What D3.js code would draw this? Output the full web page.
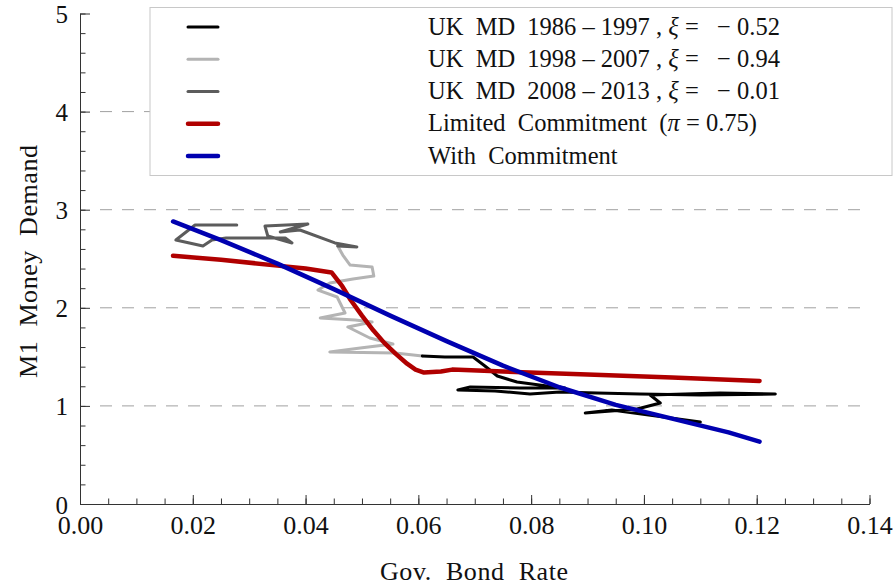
<!DOCTYPE html>
<html><head><meta charset="utf-8">
<script src="https://cdn.jsdelivr.net/npm/d3@7"></script>
<style>
html,body{margin:0;padding:0;background:#fff;}
svg{display:block;font-family:"Liberation Serif","Times New Roman",serif;}
</style></head>
<body><svg id="c" width="895" height="586"></svg>
<script>
// ---- data ----
const black8697 = [[0.1100,0.836],[0.0943,0.958],[0.0896,0.928],[0.0988,0.968],[0.1029,1.030],[0.1011,1.111],[0.1135,1.131],[0.1233,1.121],[0.1100,1.111],[0.0993,1.121],[0.0917,1.131],[0.0851,1.142],[0.0798,1.121],[0.0736,1.152],[0.0670,1.162],[0.0692,1.193],[0.0780,1.182],[0.0860,1.182],[0.0828,1.203],[0.0775,1.244],[0.0763,1.264],[0.0740,1.305],[0.0718,1.407],[0.0697,1.498],[0.0647,1.498],[0.0607,1.509]];
const gray9807 = [[0.0607,1.509],[0.0559,1.539],[0.0443,1.549],[0.0497,1.590],[0.0555,1.631],[0.0514,1.692],[0.0475,1.804],[0.0518,1.855],[0.0488,1.876],[0.0426,1.896],[0.0470,1.947],[0.0456,2.110],[0.0422,2.181],[0.0443,2.253],[0.0484,2.294],[0.0521,2.324],[0.0518,2.416],[0.0479,2.436],[0.0466,2.538],[0.0457,2.630]];
const dark0813 = [[0.0457,2.630],[0.0491,2.620],[0.0452,2.661],[0.0390,2.793],[0.0355,2.773],[0.0404,2.854],[0.0328,2.834],[0.0333,2.732],[0.0376,2.661],[0.0364,2.712],[0.0259,2.712],[0.0234,2.691],[0.0218,2.630],[0.0170,2.691],[0.0204,2.844],[0.0278,2.844]];
const limitedX = [0.0165,0.025,0.035,0.040,0.0446,0.0465,0.048,0.050,0.052,0.054,0.056,0.058,0.0595,0.061,0.064,0.066,0.075,0.090,0.105,0.1205];
const limitedY = [2.53,2.49,2.43,2.40,2.36,2.22,2.08,1.92,1.77,1.64,1.53,1.43,1.37,1.34,1.35,1.37,1.35,1.32,1.29,1.255];
const commitX = [0.0165,0.025,0.035,0.045,0.055,0.065,0.075,0.085,0.095,0.105,0.115,0.1205];
const commitY = [2.88,2.69,2.45,2.19,1.92,1.66,1.41,1.19,1.01,0.87,0.73,0.635];
const xMajor = [0,0.02,0.04,0.06,0.08,0.10,0.12,0.14];
const xMinor = d3.range(0,29).map(i=>i*0.005);
const yMajor = [0,1,2,3,4,5];
const yMinor = d3.range(0,26).map(i=>i*0.2);
const gridY = [1,2,3,4];
const legendLabels = [
  ["UK  MD  1986 – 1997 , ","ξ"," =   − 0.52"],
  ["UK  MD  1998 – 2007 , ","ξ"," =   − 0.94"],
  ["UK  MD  2008 – 2013 , ","ξ"," =   − 0.01"],
  ["Limited  Commitment  (","π"," = 0.75)"],
  ["With  Commitment","",""]
];
const colors = ["#000000","#b4b4b4","#5c5c5c","#b00000","#0000b0"];
const widths = [3,3,3,4.5,4.5];

// ---- drawing ----
const svg = d3.select("#c");
const x = d3.scaleLinear().domain([0,0.14]).range([80,869.5]);
const y = d3.scaleLinear().domain([0,5]).range([504,13.5]);

// grid
svg.append("g").selectAll("line").data(gridY).join("line")
  .attr("x1",100).attr("x2",869).attr("y1",d=>y(d)).attr("y2",d=>y(d))
  .attr("stroke","#a0a0a0").attr("stroke-width",1).attr("stroke-dasharray","12,10");

// axes
const ax1 = svg.append("g").attr("transform",`translate(0,${y(0)})`)
  .call(d3.axisBottom(x).tickValues(xMinor).tickSize(-5.5).tickSizeOuter(0).tickFormat(""));
const ax2 = svg.append("g").attr("transform",`translate(0,${y(0)})`)
  .call(d3.axisBottom(x).tickValues(xMajor).tickSize(-9).tickSizeOuter(0).tickPadding(12).tickFormat(d3.format(".2f")));
const ay1 = svg.append("g").attr("transform",`translate(${x(0)},0)`)
  .call(d3.axisLeft(y).tickValues(yMinor).tickSize(-5.5).tickSizeOuter(0).tickFormat(""));
const ay2 = svg.append("g").attr("transform",`translate(${x(0)},0)`)
  .call(d3.axisLeft(y).tickValues(yMajor).tickSize(-10).tickSizeOuter(0).tickPadding(12).tickFormat(d3.format("d")));
[ax1,ax2,ay1,ay2].forEach(g=>{
  g.selectAll(".domain").attr("stroke","#333").attr("stroke-width",1);
  g.selectAll(".tick line").attr("stroke","#333").attr("stroke-width",1);
  g.selectAll("text").attr("font-family","Liberation Serif").attr("font-size",26).attr("fill","#111");
});
ay2.selectAll("text").attr("font-size",25).attr("dy","0.36em");

// axis titles
svg.append("text").attr("x",474).attr("y",580).attr("text-anchor","middle")
  .attr("font-size",26).attr("fill","#111").style("white-space","pre")
  .attr("textLength",188).attr("lengthAdjust","spacing").text("Gov.  Bond  Rate");
svg.append("text").attr("transform","translate(37,261.5) rotate(-90)").attr("text-anchor","middle")
  .attr("font-size",26).attr("fill","#111").style("white-space","pre")
  .attr("textLength",233).attr("lengthAdjust","spacing").text("M1  Money  Demand");

// series
const line = d3.line().x(d=>x(d[0])).y(d=>y(d[1]));
const series = [black8697, gray9807, dark0813,
  limitedX.map((v,i)=>[v,limitedY[i]]),
  commitX.map((v,i)=>[v,commitY[i]])];
const order = [1,0,2,3,4];
order.forEach(i=>{
  svg.append("path").datum(series[i]).attr("d",line).attr("fill","none")
    .attr("stroke",colors[i]).attr("stroke-width",widths[i])
    .attr("stroke-linejoin","round").attr("stroke-linecap","round");
});

// legend
const lg = svg.append("g");
lg.append("rect").attr("x",150).attr("y",7.5).attr("width",742).attr("height",168)
  .attr("fill","#fff").attr("stroke","#c8c8c8").attr("stroke-width",1);
const rowY = d3.scaleLinear().domain([0,4]).range([27,156]);
legendLabels.forEach((lab,i)=>{
  lg.append("line").attr("x1",188).attr("x2",218).attr("y1",rowY(i)).attr("y2",rowY(i))
    .attr("stroke",colors[i]).attr("stroke-width",widths[i]).attr("stroke-linecap","round");
  const t = lg.append("text").attr("x",428).attr("y",rowY(i)+7.5).attr("font-size",24.5)
    .attr("fill","#111").style("white-space","pre");
  t.append("tspan").text(lab[0]);
  if(lab[1]) t.append("tspan").attr("font-style","italic").text(lab[1]);
  if(lab[2]) t.append("tspan").text(lab[2]);
});
</script></body></html>
